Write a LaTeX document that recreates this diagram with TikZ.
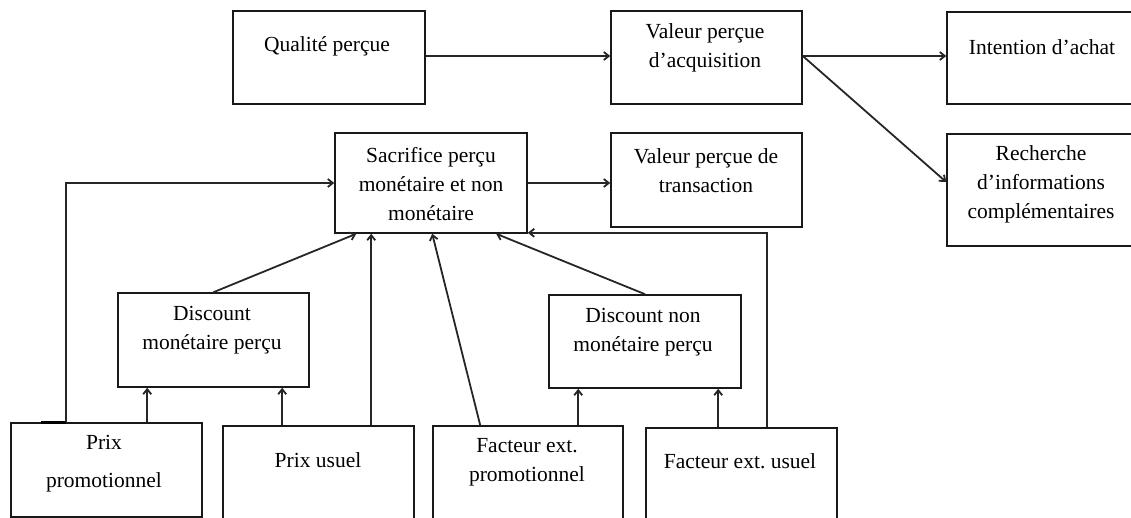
\documentclass[tikz,border=0pt]{standalone}
\usepackage{fontspec}
\setmainfont{Liberation Serif}
\usetikzlibrary{arrows.meta}
\frenchspacing
\begin{document}
\begin{tikzpicture}[x=1pt,y=-1pt,
  box/.style={draw=black!90, rectangle, line width=1.6pt, inner sep=0pt},
  txt/.style={align=center, inner sep=0pt, font=\fontsize{21.5}{29}\selectfont},
  arr/.style={draw=black!85, line width=1.8pt, -{Straight Barb[length=5pt,width=8pt]}}]
\useasboundingbox (0,0) rectangle (1131,518);
\clip (0,0) rectangle (1131,518);

% boxes
\node[box, minimum width=192pt, minimum height=93pt]  (qualite)   at (329,57.5)   {};
\node[box, minimum width=191pt, minimum height=93pt]  (acq)       at (706.5,57.5) {};
\node[box, minimum width=189pt, minimum height=92pt]  (intention) at (1041.5,58)  {};
\node[box, minimum width=189pt, minimum height=112pt] (recherche) at (1041.5,190) {};
\node[box, minimum width=192pt, minimum height=100pt] (sacrifice) at (431,183)    {};
\node[box, minimum width=191pt, minimum height=94pt]  (trans)     at (706.5,180)  {};
\node[box, minimum width=191pt, minimum height=94pt]  (dmon)      at (213.5,340)  {};
\node[box, minimum width=192pt, minimum height=93pt]  (dnon)      at (645,341.5)  {};
\node[box, minimum width=191pt, minimum height=94pt]  (prixpromo) at (106.5,470)  {};
\node[box, minimum width=191pt, minimum height=114pt] (prixusuel) at (318.5,483)  {};
\node[box, minimum width=190pt, minimum height=114pt] (fpromo)    at (528,483)    {};
\node[box, minimum width=191pt, minimum height=112pt] (fusuel)    at (741.5,484)  {};

% labels
\node[txt] (qualite-t)   at (327,46)   {Qualité perçue};
\node[txt] (acq-t)       at (705,48)   {Valeur perçue\\d’acquisition};
\node[txt] (intention-t) at (1042,47)  {Intention d’achat};
\node[txt] (recherche-t) at (1041,184) {Recherche\\d’informations\\complémentaires};
\node[txt] (sacrifice-t) at (431,184)  {Sacrifice perçu\\monétaire et non\\monétaire};
\node[txt] (trans-t)     at (706,171)  {Valeur perçue de\\transaction};
\node[txt] (dmon-t)      at (212,330)  {Discount\\monétaire perçu};
\node[txt] (dnon-t)      at (643,332)  {Discount non\\monétaire perçu};
\node[txt] (prixpromo-t) at (104,464)  {Prix\\[9pt]promotionnel};
\node[txt] (prixusuel-t) at (318,460)  {Prix usuel};
\node[txt] (fpromo-t)    at (527,462)  {Facteur ext.\\promotionnel};
\node[txt] (fusuel-t)    at (740,461)  {Facteur ext. usuel};

% top row
\draw[arr] ([yshift=1.5pt]qualite.east) -- ([yshift=1.5pt]qualite.east -| acq.west);
\draw[arr] ([yshift=1.5pt]acq.east) -- ([yshift=1.5pt]acq.east -| intention.west);
\draw[arr] ([yshift=1.5pt]acq.east) -- ([yshift=8pt]recherche.west);
\draw[arr] (sacrifice.east) -- (sacrifice.east -| trans.west);

% feedback loops into the sacrifice box
\draw[black, line width=2.8pt] ([xshift=31pt]prixpromo.north west) -- ([xshift=56pt]prixpromo.north west);
\draw[arr] ([xshift=56pt]prixpromo.north west) |- (sacrifice.west);
\draw[arr] ([xshift=122pt]fusuel.north west) |- ([yshift=1pt]sacrifice.south east);

% inputs to the sacrifice box
\draw[arr] (dmon.north) -- ([xshift=22pt]sacrifice.south west);
\draw[arr] ([xshift=149pt]prixusuel.north west) -- ([xshift=37pt]sacrifice.south west);
\draw[arr] ([xshift=48pt]fpromo.north west) -- ([xshift=98pt]sacrifice.south west);
\draw[arr] (dnon.north) -- ([xshift=162pt]sacrifice.south west);

% inputs to the discount boxes
\draw[arr] ([xshift=137pt]prixpromo.north west) -- ([xshift=30pt]dmon.south west);
\draw[arr] ([xshift=60pt]prixusuel.north west) -- ([xshift=165pt]dmon.south west);
\draw[arr] ([xshift=146pt]fpromo.north west) -- ([xshift=30pt]dnon.south west);
\draw[arr] ([xshift=73pt]fusuel.north west) -- ([xshift=170pt]dnon.south west);
\end{tikzpicture}
\end{document}
